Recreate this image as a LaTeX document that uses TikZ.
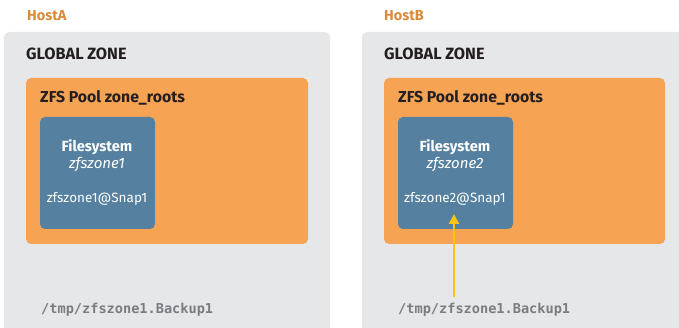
\documentclass[tikz,border=0pt]{standalone}
\usepackage{fontspec}
\setmainfont{Fira Sans}
\setsansfont{Fira Sans}
\setmonofont{DejaVu Sans Mono}
\usetikzlibrary{arrows.meta}
\definecolor{hostorange}{HTML}{D98B3A}
\definecolor{zonegray}{HTML}{E6E7E9}
\definecolor{poolorange}{HTML}{F7A354}
\definecolor{fsblue}{HTML}{55809F}
\definecolor{darktext}{HTML}{231F20}
\definecolor{pathgray}{HTML}{7A7D80}
\definecolor{arrowyellow}{HTML}{F9C513}
\tikzset{
  hostlabel/.style={anchor=base west, inner sep=0pt, text=hostorange, font=\bfseries\fontsize{14.5}{16}\selectfont},
  zonebox/.style={fill=zonegray, rounded corners=5pt},
  poolbox/.style={fill=poolorange, rounded corners=5pt},
  fsbox/.style={fill=fsblue, rounded corners=5pt},
  zonelabel/.style={anchor=base west, inner sep=0pt, text=darktext, font=\bfseries\fontsize{16.3}{18}\selectfont},
  poollabel/.style={anchor=base west, inner sep=0pt, text=darktext, font=\bfseries\fontsize{15.8}{17}\selectfont},
  fstitle/.style={anchor=base, inner sep=0pt, text=white, font=\bfseries\fontsize{14.7}{17}\selectfont},
  fsname/.style={anchor=base, inner sep=0pt, text=white, font=\itshape\fontsize{15}{17}\selectfont},
  fssnap/.style={anchor=base, inner sep=0pt, text=white, font=\fontsize{13.5}{15}\selectfont},
  pathlabel/.style={anchor=base west, inner sep=0pt, text=pathgray, font=\ttfamily\bfseries\fontsize{13.6}{15}\selectfont},
  copyarrow/.style={draw=arrowyellow, line width=2.2pt, -{Triangle[length=10pt,width=10pt]}}
}
\begin{document}
\begin{tikzpicture}[x=1pt,y=-1pt]
\useasboundingbox (0,0) rectangle (679,328);
% host A
\node[hostlabel] (hostA) at (27,21) {HostA};
\path[zonebox] (4,32) rectangle (330,340);
\node[zonelabel] (gzA) at (26,60) {GLOBAL ZONE};
\path[poolbox] (26,78) rectangle (308,244);
\node[poollabel] (poolA) at (40,103) {ZFS Pool zone\_roots};
\path[fsbox] (40,117) rectangle (155,229);
\node[fstitle] (fsA) at (97,152) {Filesystem};
\node[fsname] (fsnameA) at (97,169) {zfszone1};
\node[fssnap] (snapA) at (97,203) {zfszone1@Snap1};
\node[pathlabel] (tmpA) at (41,313) {/tmp/zfszone1.Backup1};
% host B
\node[hostlabel] (hostB) at (384,21) {HostB};
\path[zonebox] (362,32) rectangle (690,340);
\node[zonelabel] (gzB) at (384,60) {GLOBAL ZONE};
\path[poolbox] (384,78) rectangle (665,244);
\node[poollabel] (poolB) at (398,103) {ZFS Pool zone\_roots};
\path[fsbox] (398,117) rectangle (513,229);
\node[fstitle] (fsB) at (455,152) {Filesystem};
\node[fsname] (fsnameB) at (455,169) {zfszone2};
\node[fssnap] (snapB) at (455,203) {zfszone2@Snap1};
\node[pathlabel] (tmpB) at (398,313) {/tmp/zfszone1.Backup1};
% restore of the backup stream into the pool on HostB
\coordinate (arrowstart) at (454,297);
\draw[copyarrow] (arrowstart) -- (454,214);
\end{tikzpicture}
\end{document}
